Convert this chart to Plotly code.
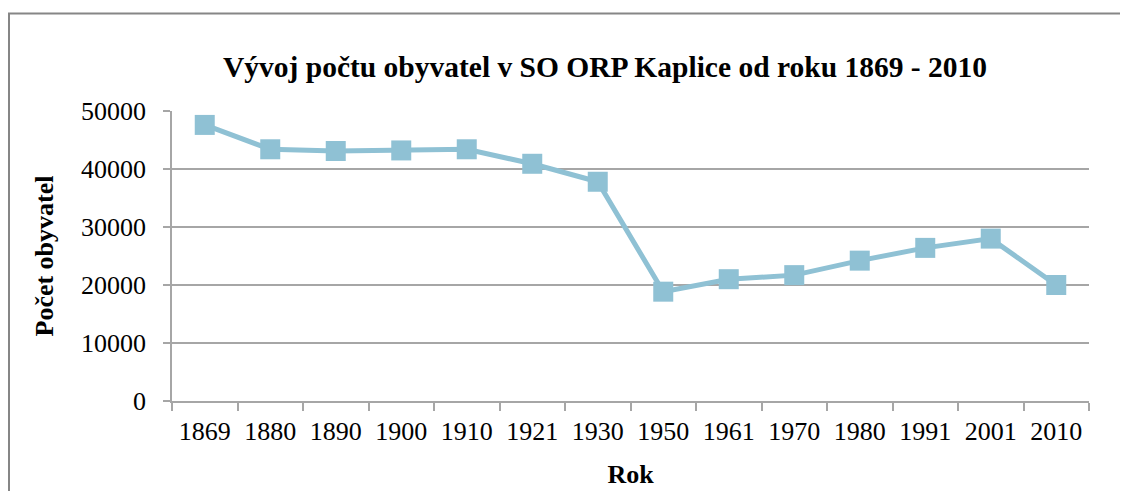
import plotly.graph_objects as go

years = ["1869", "1880", "1890", "1900", "1910", "1921", "1930", "1950",
         "1961", "1970", "1980", "1991", "2001", "2010"]
population = [47600, 43400, 43100, 43200, 43400, 40900, 37800, 18850,
              21000, 21700, 24200, 26400, 28000, 20000]
y_ticks = [0, 10000, 20000, 30000, 40000, 50000]

# page body has an 8px margin, so the figure is drawn 8px smaller and offset
OFF = 8
W, H = 1128 - OFF, 491 - OFF
L, R, T, B = 172 - OFF, 1089 - OFF, 111 - OFF, 401 - OFF
pw, ph = R - L, B - T

serif = "Liberation Serif, Times New Roman, serif"
line_col = "#8FC1D4"
grid_col = "#A6A6A6"

fig = go.Figure()
fig.add_trace(go.Scatter(
    x=years, y=population, mode="lines+markers",
    line=dict(color=line_col, width=5),
    marker=dict(symbol="square", size=20, color=line_col),
    showlegend=False,
))

fig.update_layout(
    width=W, height=H,
    margin=dict(l=L, r=W - R, t=T, b=H - B, autoexpand=False),
    paper_bgcolor="white", plot_bgcolor="white",
    font=dict(family=serif, color="black", size=26),
    title=dict(
        text="<b>Vývoj počtu obyvatel v SO ORP Kaplice od roku 1869 - 2010</b>",
        x=((222 + 988) / 2 - OFF) / W, xanchor="center",
        y=1 - (67 - OFF) / H, yanchor="middle", yref="container",
        font=dict(family=serif, size=29.5, color="black"),
    ),
    xaxis=dict(
        type="category", tickson="boundaries",
        showline=True, linecolor=grid_col, linewidth=1.5,
        ticks="outside", ticklen=8, tickcolor=grid_col, tickwidth=1.5,
        showgrid=False, zeroline=False,
        tickfont=dict(family=serif, size=26),
        ticklabelstandoff=6,
        title=dict(text="<b>Rok</b>", font=dict(family=serif, size=26), standoff=20),
        range=[-0.5, 13.5],
    ),
    yaxis=dict(
        range=[0, 50000], tickvals=y_ticks, ticktext=[str(v) for v in y_ticks],
        showline=True, linecolor=grid_col, linewidth=1.5,
        ticks="outside", ticklen=7, tickcolor=grid_col, tickwidth=1.5,
        showgrid=True, gridcolor=grid_col, gridwidth=1.5,
        zeroline=False,
        tickfont=dict(family=serif, size=26),
        ticklabelstandoff=12,
        title=dict(text="<b>Počet obyvatel</b>", font=dict(family=serif, size=26), standoff=20),
    ),
)

# outer chart border (open to the right and bottom, as in the crop)
fig.add_shape(
    type="rect", xref="paper", yref="paper",
    x0=(1 - L) / pw, x1=(W + 20 - L) / pw,
    y0=(B - H - 20) / ph, y1=(B - 5.5) / ph,
    line=dict(color="#868686", width=2), fillcolor="rgba(0,0,0,0)",
    layer="below",
)

fig.write_html("out.html")
